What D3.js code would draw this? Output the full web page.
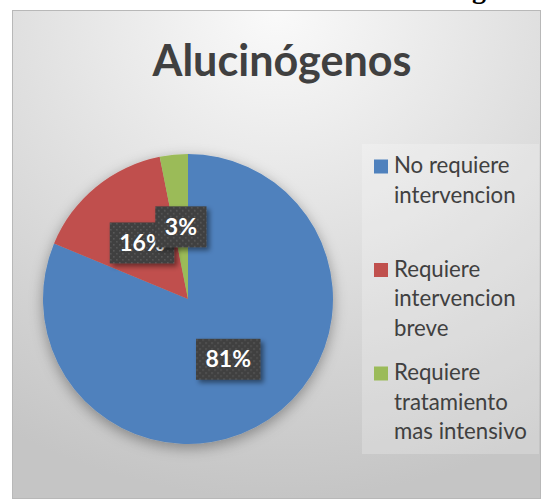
<!DOCTYPE html>
<html>
<head>
<meta charset="utf-8">
<script src="https://cdn.jsdelivr.net/npm/d3@7"></script>
<style>
  html, body { margin: 0; padding: 0; background: #fff; }
  svg { display: block; }
</style>
</head>
<body>
<svg id="chart" width="542" height="499"></svg>
<script>
// ---- data ----
const title = "Alucinógenos";
const categories = ["No requiere intervencion", "Requiere intervencion breve", "Requiere tratamiento mas intensivo"];
const values = [26, 5, 1];
const percentLabels = ["81%", "16%", "3%"];
const colors = ["#4F81BD", "#C0504D", "#9BBB59"];

const W = 542, H = 499;
const svg = d3.select("#chart");
const defs = svg.append("defs");

// background gradient
const bg = defs.append("radialGradient").attr("id", "bgGrad")
  .attr("cx", 0.5).attr("cy", 0.0).attr("r", 1.0).attr("fx", 0.5).attr("fy", 0.0);
bg.append("stop").attr("offset", "0%").attr("stop-color", "#FAFAFA");
bg.append("stop").attr("offset", "100%").attr("stop-color", "#C5C5C5");

// label pattern
const pat = defs.append("pattern").attr("id", "dots").attr("patternUnits", "userSpaceOnUse")
  .attr("width", 6).attr("height", 6);
pat.append("rect").attr("width", 6).attr("height", 6).attr("fill", "#404040");
pat.append("rect").attr("x", 1).attr("y", 1).attr("width", 1.6).attr("height", 1.6).attr("fill", "#5A5A5A");
pat.append("rect").attr("x", 4).attr("y", 4).attr("width", 1.6).attr("height", 1.6).attr("fill", "#555555");

// filters
const pieShadow = defs.append("filter").attr("id", "pieShadow")
  .attr("x", "-30%").attr("y", "-30%").attr("width", "160%").attr("height", "160%");
pieShadow.append("feDropShadow").attr("dx", 0).attr("dy", 4).attr("stdDeviation", 7)
  .attr("flood-color", "#000").attr("flood-opacity", 0.35);
const boxShadow = defs.append("filter").attr("id", "boxShadow")
  .attr("x", "-30%").attr("y", "-30%").attr("width", "160%").attr("height", "160%");
boxShadow.append("feDropShadow").attr("dx", 3).attr("dy", 3).attr("stdDeviation", 2.5)
  .attr("flood-color", "#000").attr("flood-opacity", 0.45);

// cut-off heading fragment above the chart
svg.append("text").attr("x", 472).attr("y", -2)
  .attr("font-family", "Liberation Serif").attr("font-weight", "bold").attr("font-size", 28)
  .attr("fill", "#000").text("g");

// chart frame
const frame = { x: 12, y: 10, w: 528, h: 488 };
svg.append("rect").attr("x", frame.x + 0.5).attr("y", frame.y + 0.5)
  .attr("width", frame.w).attr("height", frame.h)
  .attr("fill", "url(#bgGrad)").attr("stroke", "#B8B8B8").attr("stroke-width", 1);

// helper: fit font size to a target width
function fitText(sel, targetW) {
  const fs = +sel.attr("font-size");
  const w = sel.node().getComputedTextLength();
  sel.attr("font-size", fs * targetW / w);
}

// title
const t = svg.append("text").attr("x", 282).attr("y", 76).attr("text-anchor", "middle")
  .attr("font-family", "Lato").attr("font-weight", "bold").attr("font-size", 44)
  .attr("fill", "#404040").text(title);
fitText(t, 259);

// pie
const cx = 188, cy = 299, R = 145;
const pie = d3.pie().sort(null).value(d => d)(values);
const arc = d3.arc().innerRadius(0).outerRadius(R);
const labelArc = d3.arc().innerRadius(0).outerRadius(R);
const gPie = svg.append("g").attr("transform", `translate(${cx},${cy})`);
gPie.append("g").attr("filter", "url(#pieShadow)")
  .selectAll("path").data(pie).join("path")
  .attr("d", arc).attr("fill", (d, i) => colors[i]);

// data labels
const gLab = gPie.append("g");
pie.forEach((d, i) => {
  const [x, y] = labelArc.centroid(d);
  const g = gLab.append("g").attr("transform", `translate(${x},${y})`);
  const rect = g.append("rect").attr("fill", "url(#dots)").attr("filter", "url(#boxShadow)");
  const tx = g.append("text").attr("text-anchor", "middle").attr("y", 8)
    .attr("font-family", "Lato").attr("font-weight", "bold").attr("font-size", 23)
    .attr("fill", "#fff").text(percentLabels[i]);
  const tw = tx.node().getComputedTextLength();
  const bw = tw + 19, bh = 41;
  rect.attr("x", -bw / 2).attr("y", -bh / 2).attr("width", bw).attr("height", bh);
});

// legend
svg.append("rect").attr("x", 362).attr("y", 144).attr("width", 177).attr("height", 310)
  .attr("fill", "#fff").attr("fill-opacity", 0.22);

function wrap(str, maxW, fs) {
  const tmp = svg.append("text").attr("font-family", "Lato").attr("font-size", fs);
  const words = str.split(" ");
  const lines = [];
  let cur = "";
  words.forEach(w => {
    const test = cur ? cur + " " + w : w;
    tmp.text(test);
    if (tmp.node().getComputedTextLength() > maxW && cur) { lines.push(cur); cur = w; }
    else cur = test;
  });
  if (cur) lines.push(cur);
  tmp.remove();
  return lines;
}

// determine legend font size from reference width of "mas intensivo"
const probe = svg.append("text").attr("font-family", "Lato").attr("font-size", 22).text("mas intensivo");
const legFs = 22 * 133 / probe.node().getComputedTextLength();
probe.remove();

const yLeg = d3.scalePoint().domain(categories).range([173, 380]);
const lineH = 29.5;
categories.forEach((c, i) => {
  const y0 = yLeg(c);
  svg.append("rect").attr("x", 374).attr("y", y0 - 13.5).attr("width", 14).attr("height", 14)
    .attr("fill", colors[i]);
  const lines = wrap(c, 140, legFs);
  const tx = svg.append("text").attr("x", 394).attr("y", y0)
    .attr("font-family", "Lato").attr("font-size", legFs).attr("fill", "#404040");
  lines.forEach((l, j) => {
    tx.append("tspan").attr("x", 394).attr("y", y0 + j * lineH).text(l);
  });
});
</script>
</body>
</html>
